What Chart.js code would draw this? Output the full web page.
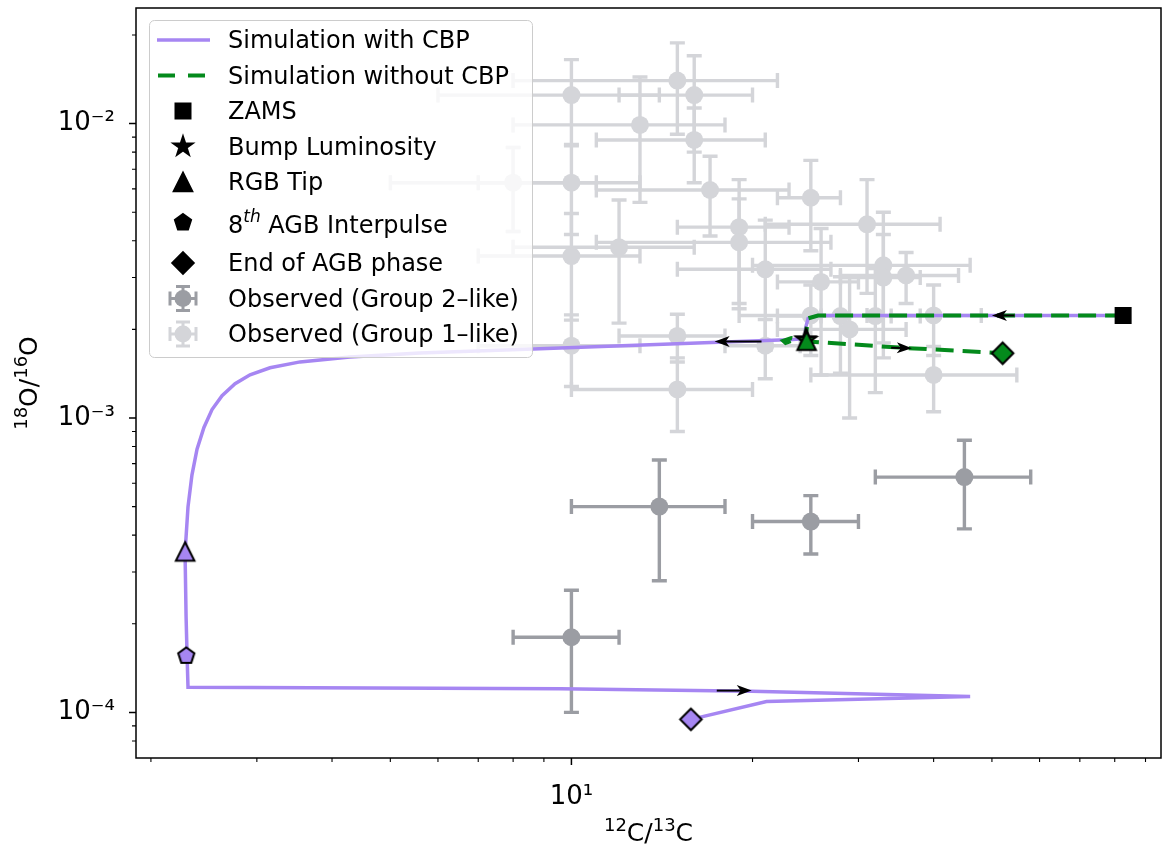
<!DOCTYPE html>
<html>
<head>
<meta charset="utf-8">
<script src="https://cdn.jsdelivr.net/npm/chart.js@4"></script>
<style>
  html, body { margin: 0; padding: 0; background: #fff; }
  #wrap { width: 1163px; height: 848px; }
</style>
</head>
<body>
<div id="wrap"><canvas id="chart" width="1163" height="848"></canvas></div>
<script>
// axis limits and ticks
const X_RANGE = [1.889, 95.5];
const Y_RANGE = [7.3e-5, 2.47e-2];
const X_MAJOR = [10];
const X_MINOR = [2, 3, 4, 5, 6, 7, 8, 9, 20, 30, 40, 50, 60, 70, 80, 90];
const Y_MAJOR = [1e-4, 1e-3, 1e-2];
const Y_MINOR = [8e-5, 9e-5, 2e-4, 3e-4, 4e-4, 5e-4, 6e-4, 7e-4, 8e-4, 9e-4,
  2e-3, 3e-3, 4e-3, 5e-3, 6e-3, 7e-3, 8e-3, 9e-3, 2e-2];
const X_TITLE = '^{12}C/^{13}C';
const Y_TITLE = '^{18}O/^{16}O';

// simulation with CBP
const cbpX = [82.6, 25.7, 24.74, 24.5, 24.5, 22.65, 22.2, 8.63, 5.60, 4.285, 3.54, 3.155, 2.923,
  2.760, 2.626, 2.527, 2.450, 2.386, 2.34, 2.305, 2.288, 2.279, 2.288, 2.297, 2.305, 9.57, 19.95,
  46.0, 21.1, 15.8];
const cbpY = [2.23e-3, 2.23e-3, 2.18e-3, 2.02e-3, 1.86e-3, 1.84e-3, 1.84e-3, 1.715e-3, 1.663e-3,
  1.612e-3, 1.551e-3, 1.481e-3, 1.402e-3, 1.307e-3, 1.191e-3, 1.068e-3, 9.29e-4, 7.83e-4, 6.40e-4,
  4.99e-4, 3.95e-4, 3.52e-4, 2.12e-4, 1.556e-4, 1.217e-4, 1.202e-4, 1.181e-4, 1.133e-4, 1.089e-4,
  9.47e-5];

// simulation without CBP
const noCbpX = [82.6, 25.7, 24.74, 24.6, 24.5, 23.6, 22.7, 22.5, 23.2, 24.6, 36.0, 52.1];
const noCbpY = [2.23e-3, 2.23e-3, 2.18e-3, 2.0e-3, 1.86e-3, 1.85e-3, 1.80e-3, 1.83e-3, 1.87e-3,
  1.82e-3, 1.729e-3, 1.66e-3];

// evolutionary markers
const zams = [{ x: 82.6, y: 2.23e-3 }];
const bumpCbp = [{ x: 24.5, y: 1.85e-3 }];
const bumpNoCbp = [{ x: 24.6, y: 1.84e-3 }];
const rgbTipCbp = [{ x: 2.28, y: 3.52e-4 }];
const rgbTipNoCbp = [{ x: 24.6, y: 1.83e-3 }];
const interpulseCbp = [{ x: 2.29, y: 1.556e-4 }];
const endAgbCbp = [{ x: 15.8, y: 9.47e-5 }];
const endAgbNoCbp = [{ x: 52.1, y: 1.66e-3 }];

// direction arrows (from -> to)
const arrowFromX = [20.7, 17.44, 54.5, 34.0];
const arrowFromY = [1.82e-3, 1.186e-4, 2.23e-3, 1.733e-3];
const arrowToX = [17.3, 19.94, 50.0, 36.8];
const arrowToY = [1.82e-3, 1.186e-4, 2.23e-3, 1.727e-3];

// observed stars, group 2-like
const group2X = [14, 25, 45, 10];
const group2XErr = [4, 5, 13, 2];
const group2Y = [5.0e-4, 4.45e-4, 6.3e-4, 1.8e-4];
const group2YErr = [2.2e-4, 1.0e-4, 2.1e-4, 0.8e-4];

// observed stars, group 1-like
const group1X = [8.0, 10, 15, 16, 13, 16, 10, 17, 19, 19, 12, 10, 25, 31, 21, 26, 33, 33, 36,
  25, 28, 29, 32, 40, 40, 15, 15, 10, 21];
const group1XErr = [3, 4, 7, 4, 5, 5, 3, 6, 4, 8, 4, 3, 3, 10, 6, 4, 13, 5, 8,
  6, 6, 7, 6, 8, 15, 3, 5, 3, 3];
const group1Y = [6.3e-3, 1.25e-2, 1.40e-2, 1.25e-2, 9.9e-3, 8.8e-3, 6.3e-3, 5.95e-3, 4.45e-3,
  3.95e-3, 3.8e-3, 3.55e-3, 5.6e-3, 4.55e-3, 3.2e-3, 2.9e-3, 3.3e-3, 3.0e-3, 3.05e-3,
  2.23e-3, 2.22e-3, 2.0e-3, 2.22e-3, 2.23e-3, 1.40e-3, 1.9e-3, 1.25e-3, 1.76e-3, 1.76e-3];
const group1YErr = [2.0e-3, 4.0e-3, 4.8e-3, 4.5e-3, 4.5e-3, 2.5e-3, 2.1e-3, 1.8e-3, 2.0e-3,
  1.6e-3, 1.7e-3, 1.4e-3, 1.9e-3, 1.9e-3, 1.5e-3, 1.5e-3, 1.7e-3, 1.2e-3, 0.6e-3,
  0.6e-3, 0.8e-3, 1.0e-3, 1.0e-3, 0.6e-3, 0.35e-3, 0.35e-3, 0.35e-3, 0.48e-3, 0.4e-3];

const legendLabels = ['Simulation with CBP', 'Simulation without CBP', 'ZAMS', 'Bump Luminosity',
  'RGB Tip', '8^{th} AGB Interpulse', 'End of AGB phase', 'Observed (Group 2–like)', 'Observed (Group 1–like)'];

const PURPLE = 'rgb(166,134,242)';
const GREEN = 'rgb(4,138,28)';
const DARK_GRAY = 'rgb(155,157,163)';
const LIGHT_GRAY = 'rgb(212,213,217)';
const FONT = '"DejaVu Sans", sans-serif';
const SUP = { '-': '⁻', '0': '⁰', '1': '¹', '2': '²', '3': '³', '4': '⁴', '5': '⁵', '6': '⁶', '7': '⁷', '8': '⁸', '9': '⁹' };

function powerLabel(v) {
  const e = Math.round(Math.log10(v));
  return '10' + String(e).split('').map(ch => SUP[ch]).join('');
}

function zip(xs, ys) {
  return xs.map((x, i) => ({ x, y: ys[i] }));
}

// split 'a^{b}c' into plain / superscript runs
function richParts(text) {
  const parts = [];
  const re = /\^\{([^}]*)\}/g;
  let last = 0, m;
  while ((m = re.exec(text))) {
    if (m.index > last) parts.push({ t: text.slice(last, m.index), sup: false });
    parts.push({ t: m[1], sup: true });
    last = re.lastIndex;
  }
  if (last < text.length) parts.push({ t: text.slice(last), sup: false });
  return parts;
}

// draws text with superscripts, baseline at y; align 'left' or 'center'
function drawRich(ctx, text, x, y, size, align, supItalic) {
  const parts = richParts(text);
  const fontOf = p => p.sup ? `${supItalic ? 'italic ' : ''}${Math.round(size * 0.7)}px ${FONT}` : `${size}px ${FONT}`;
  let total = 0;
  parts.forEach(p => { ctx.font = fontOf(p); p.w = ctx.measureText(p.t).width; total += p.w; });
  let cx = align === 'center' ? x - total / 2 : x;
  ctx.textAlign = 'left';
  ctx.textBaseline = 'alphabetic';
  parts.forEach(p => {
    ctx.font = fontOf(p);
    ctx.fillText(p.t, cx, p.sup ? y - size * 0.42 : y);
    cx += p.w;
  });
}

function traceShape(g, shape, cx, cy, r) {
  g.beginPath();
  if (shape === 'square') {
    g.rect(cx - r, cy - r, 2 * r, 2 * r);
  } else if (shape === 'diamond') {
    const d = r * Math.SQRT2;
    g.moveTo(cx, cy - d); g.lineTo(cx + d, cy); g.lineTo(cx, cy + d); g.lineTo(cx - d, cy);
    g.closePath();
  } else if (shape === 'triangle') {
    g.moveTo(cx, cy - r); g.lineTo(cx + r, cy + r); g.lineTo(cx - r, cy + r);
    g.closePath();
  } else {
    const n = shape === 'star' ? 10 : 5;
    for (let i = 0; i < n; i++) {
      const a = -Math.PI / 2 + i * 2 * Math.PI / n;
      const rr = shape === 'star' && i % 2 ? r * 0.382 : r;
      const px = cx + rr * Math.cos(a), py = cy + rr * Math.sin(a);
      if (i === 0) g.moveTo(px, py); else g.lineTo(px, py);
    }
    g.closePath();
  }
}

const MARKER_R = { square: 7.5, diamond: 7.6, triangle: 9.3, pentagon: 8.5, star: 10 };

function markerImage(shape, fill) {
  const r = MARKER_R[shape];
  const dim = Math.ceil(r * 3 + 6);
  const c = document.createElement('canvas');
  c.width = dim; c.height = dim;
  const g = c.getContext('2d');
  traceShape(g, shape, dim / 2, dim / 2, r);
  g.fillStyle = fill;
  g.fill();
  g.lineWidth = 2;
  g.strokeStyle = '#000';
  g.lineJoin = 'miter';
  g.stroke();
  return c;
}

function markerSet(data, shape, fill, order) {
  return {
    data, order, showLine: false,
    pointStyle: markerImage(shape, fill),
    pointRadius: 10, pointHoverRadius: 10
  };
}

function drawErrorBars(ctx, xs, ys, xErr, yErr, color, sx, sy) {
  const cap = 7.5;
  ctx.strokeStyle = color;
  ctx.lineWidth = 3.4;
  ctx.lineCap = 'butt';
  xs.forEach((xv, i) => {
    const px = sx.getPixelForValue(xv), py = sy.getPixelForValue(ys[i]);
    const x0 = sx.getPixelForValue(xv - xErr[i]), x1 = sx.getPixelForValue(xv + xErr[i]);
    const y0 = sy.getPixelForValue(ys[i] - yErr[i]), y1 = sy.getPixelForValue(ys[i] + yErr[i]);
    ctx.beginPath();
    ctx.moveTo(x0, py); ctx.lineTo(x1, py);
    ctx.moveTo(px, y0); ctx.lineTo(px, y1);
    ctx.moveTo(x0, py - cap); ctx.lineTo(x0, py + cap);
    ctx.moveTo(x1, py - cap); ctx.lineTo(x1, py + cap);
    ctx.moveTo(px - cap, y0); ctx.lineTo(px + cap, y0);
    ctx.moveTo(px - cap, y1); ctx.lineTo(px + cap, y1);
    ctx.stroke();
  });
}

const errorBarPlugin = {
  id: 'errorBars',
  beforeDatasetsDraw(chart) {
    const { ctx, chartArea: a, scales: { x, y } } = chart;
    ctx.save();
    ctx.beginPath();
    ctx.rect(a.left, a.top, a.right - a.left, a.bottom - a.top);
    ctx.clip();
    drawErrorBars(ctx, group2X, group2Y, group2XErr, group2YErr, DARK_GRAY, x, y);
    drawErrorBars(ctx, group1X, group1Y, group1XErr, group1YErr, LIGHT_GRAY, x, y);
    ctx.restore();
  }
};

function drawArrow(ctx, x0, y0, x1, y1) {
  const ang = Math.atan2(y1 - y0, x1 - x0);
  const len = 15, half = 5.5, notch = 4;
  ctx.beginPath();
  ctx.moveTo(x0, y0);
  ctx.lineTo(x1 - Math.cos(ang) * len * 0.7, y1 - Math.sin(ang) * len * 0.7);
  ctx.stroke();
  ctx.save();
  ctx.translate(x1, y1);
  ctx.rotate(ang);
  ctx.beginPath();
  ctx.moveTo(0, 0);
  ctx.lineTo(-len, -half);
  ctx.lineTo(-len + notch, 0);
  ctx.lineTo(-len, half);
  ctx.closePath();
  ctx.fill();
  ctx.restore();
}

const arrowPlugin = {
  id: 'arrows',
  afterDatasetsDraw(chart) {
    const { ctx, scales: { x, y } } = chart;
    ctx.save();
    ctx.strokeStyle = '#000';
    ctx.fillStyle = '#000';
    ctx.lineWidth = 2;
    arrowFromX.forEach((fx, i) => {
      drawArrow(ctx, x.getPixelForValue(fx), y.getPixelForValue(arrowFromY[i]),
        x.getPixelForValue(arrowToX[i]), y.getPixelForValue(arrowToY[i]));
    });
    ctx.restore();
  }
};

const framePlugin = {
  id: 'frame',
  afterDatasetsDraw(chart) {
    const { ctx, chartArea: a, scales: { x, y } } = chart;
    ctx.save();
    ctx.strokeStyle = '#000';
    ctx.lineWidth = 1.5;
    ctx.strokeRect(a.left, a.top, a.right - a.left, a.bottom - a.top);
    const xtick = (vals, len, w) => {
      ctx.lineWidth = w;
      ctx.beginPath();
      vals.forEach(v => {
        const px = x.getPixelForValue(v);
        if (px >= a.left && px <= a.right) { ctx.moveTo(px, a.bottom); ctx.lineTo(px, a.bottom + len); }
      });
      ctx.stroke();
    };
    const ytick = (vals, len, w) => {
      ctx.lineWidth = w;
      ctx.beginPath();
      vals.forEach(v => {
        const py = y.getPixelForValue(v);
        if (py >= a.top && py <= a.bottom) { ctx.moveTo(a.left, py); ctx.lineTo(a.left - len, py); }
      });
      ctx.stroke();
    };
    xtick(X_MAJOR, 7, 1.5); xtick(X_MINOR, 4, 1.1);
    ytick(Y_MAJOR, 7, 1.5); ytick(Y_MINOR, 4, 1.1);
    ctx.restore();
  }
};

// axis titles with real superscripts
const titlePlugin = {
  id: 'axisTitles',
  afterDraw(chart) {
    const { ctx, chartArea: a } = chart;
    ctx.save();
    ctx.fillStyle = '#000';
    drawRich(ctx, X_TITLE, (a.left + a.right) / 2, 841, 25, 'center', false);
    ctx.translate(37, (a.top + a.bottom) / 2);
    ctx.rotate(-Math.PI / 2);
    drawRich(ctx, Y_TITLE, 0, 0, 25, 'center', false);
    ctx.restore();
  }
};

function drawHandle(ctx, i, cx, cy) {
  ctx.save();
  if (i === 0) {
    ctx.strokeStyle = PURPLE; ctx.lineWidth = 3.5;
    ctx.beginPath(); ctx.moveTo(157, cy); ctx.lineTo(210, cy); ctx.stroke();
  } else if (i === 1) {
    ctx.strokeStyle = GREEN; ctx.lineWidth = 4; ctx.setLineDash([17, 13]);
    ctx.beginPath(); ctx.moveTo(158, cy); ctx.lineTo(210, cy); ctx.stroke();
  } else if (i >= 2 && i <= 6) {
    const shape = ['square', 'star', 'triangle', 'pentagon', 'diamond'][i - 2];
    traceShape(ctx, shape, cx, cy, MARKER_R[shape]);
    ctx.fillStyle = '#000'; ctx.fill();
    ctx.lineWidth = 2; ctx.strokeStyle = '#000'; ctx.stroke();
  } else {
    const color = i === 7 ? DARK_GRAY : LIGHT_GRAY;
    ctx.strokeStyle = color; ctx.lineWidth = 3;
    ctx.beginPath();
    ctx.moveTo(cx - 13, cy); ctx.lineTo(cx + 13, cy);
    ctx.moveTo(cx, cy - 12); ctx.lineTo(cx, cy + 12);
    ctx.moveTo(cx - 13, cy - 7); ctx.lineTo(cx - 13, cy + 7);
    ctx.moveTo(cx + 13, cy - 7); ctx.lineTo(cx + 13, cy + 7);
    ctx.moveTo(cx - 7, cy - 12); ctx.lineTo(cx + 7, cy - 12);
    ctx.moveTo(cx - 7, cy + 12); ctx.lineTo(cx + 7, cy + 12);
    ctx.stroke();
    ctx.fillStyle = color;
    ctx.beginPath(); ctx.arc(cx, cy, 8.5, 0, Math.PI * 2); ctx.fill();
  }
  ctx.restore();
}

const legendPlugin = {
  id: 'insideLegend',
  afterDraw(chart) {
    const ctx = chart.ctx;
    const bx = 149.5, by = 20.5, bw = 383, bh = 337, r = 5;
    const rowY = [40, 75.5, 111, 146.5, 182, 222.5, 263, 298.5, 334];
    ctx.save();
    ctx.beginPath();
    ctx.moveTo(bx + r, by);
    ctx.arcTo(bx + bw, by, bx + bw, by + bh, r);
    ctx.arcTo(bx + bw, by + bh, bx, by + bh, r);
    ctx.arcTo(bx, by + bh, bx, by, r);
    ctx.arcTo(bx, by, bx + bw, by, r);
    ctx.closePath();
    ctx.fillStyle = 'rgba(255,255,255,0.8)';
    ctx.fill();
    ctx.strokeStyle = '#cccccc';
    ctx.lineWidth = 1;
    ctx.stroke();
    legendLabels.forEach((label, i) => {
      const cy = rowY[i];
      drawHandle(ctx, i, 183, cy);
      ctx.fillStyle = '#000';
      drawRich(ctx, label, 228, cy + (i === 5 ? 10 : 8), 24, 'left', true);
    });
    ctx.restore();
  }
};

function noPadding(s) {
  s.paddingLeft = 0; s.paddingRight = 0; s.paddingTop = 0; s.paddingBottom = 0;
}

new Chart(document.getElementById('chart'), {
  type: 'scatter',
  data: {
    datasets: [
      markerSet(zams, 'square', '#000', 1),
      markerSet(rgbTipNoCbp, 'triangle', GREEN, 2),
      markerSet(rgbTipCbp, 'triangle', PURPLE, 2),
      markerSet(bumpNoCbp, 'star', GREEN, 3),
      markerSet(bumpCbp, 'star', PURPLE, 3),
      markerSet(interpulseCbp, 'pentagon', PURPLE, 2),
      markerSet(endAgbCbp, 'diamond', PURPLE, 2),
      markerSet(endAgbNoCbp, 'diamond', GREEN, 2),
      {
        label: 'Simulation without CBP', data: zip(noCbpX, noCbpY), order: 5,
        showLine: true, borderColor: GREEN, borderWidth: 4, borderDash: [18, 9],
        pointRadius: 0, fill: false, tension: 0
      },
      {
        label: 'Simulation with CBP', data: zip(cbpX, cbpY), order: 6,
        showLine: true, borderColor: PURPLE, borderWidth: 3.5,
        pointRadius: 0, fill: false, tension: 0
      },
      {
        label: 'Observed (Group 1–like)', data: zip(group1X, group1Y), order: 9,
        pointRadius: 9, backgroundColor: LIGHT_GRAY, borderWidth: 0
      },
      {
        label: 'Observed (Group 2–like)', data: zip(group2X, group2Y), order: 10,
        pointRadius: 9, backgroundColor: DARK_GRAY, borderWidth: 0
      }
    ]
  },
  options: {
    responsive: false,
    animation: false,
    events: [],
    layout: { autoPadding: false, padding: { top: 8, right: 2, left: 0, bottom: 0 } },
    scales: {
      x: {
        type: 'logarithmic', min: X_RANGE[0], max: X_RANGE[1],
        afterFit(s) { s.height = 90; noPadding(s); },
        afterBuildTicks(s) { s.ticks = X_MAJOR.map(v => ({ value: v })); },
        grid: { display: false },
        border: { display: false },
        ticks: {
          callback: v => powerLabel(v), color: '#000', padding: 16,
          maxRotation: 0, autoSkip: false, font: { family: FONT, size: 26 }
        }
      },
      y: {
        type: 'logarithmic', min: Y_RANGE[0], max: Y_RANGE[1],
        afterFit(s) { s.width = 136; noPadding(s); },
        afterBuildTicks(s) { s.ticks = Y_MAJOR.map(v => ({ value: v })); },
        grid: { display: false },
        border: { display: false },
        ticks: {
          callback: v => powerLabel(v), color: '#000', padding: 13,
          autoSkip: false, font: { family: FONT, size: 26 }
        }
      }
    },
    plugins: {
      legend: { display: false },
      tooltip: { enabled: false }
    }
  },
  plugins: [errorBarPlugin, arrowPlugin, framePlugin, titlePlugin, legendPlugin]
});
</script>
</body>
</html>
